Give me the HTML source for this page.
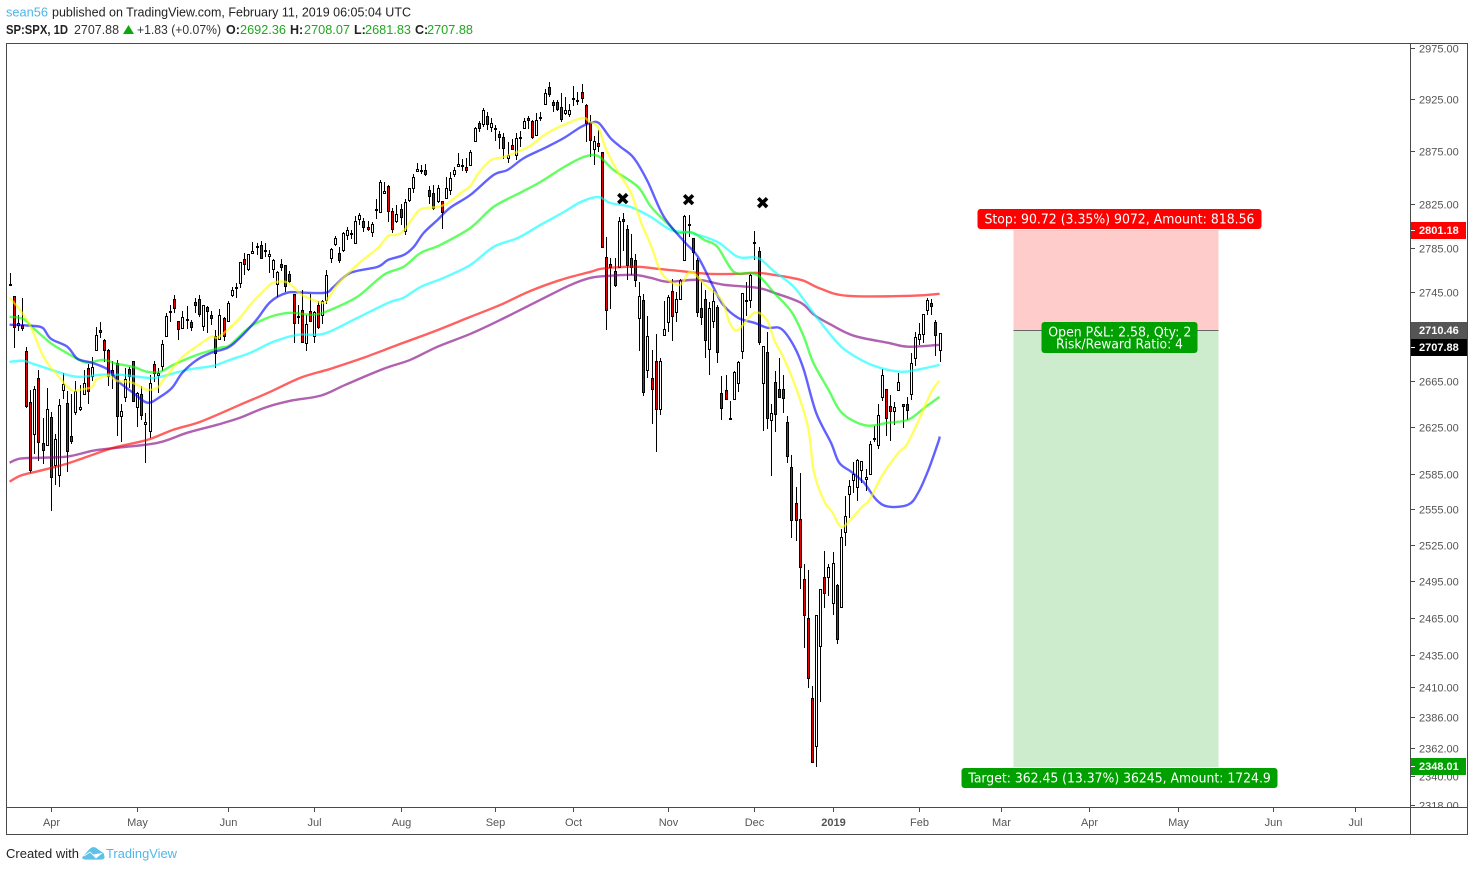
<!DOCTYPE html>
<html lang="en">
<head>
<meta charset="utf-8">
<title>SP:SPX, 1D</title>
<style>
html,body{margin:0;padding:0;background:#fff;width:1474px;height:871px;overflow:hidden}
svg{display:block}
text{font-family:"Liberation Sans",Arial,sans-serif}
</style>
</head>
<body>
<svg id="chart" xmlns="http://www.w3.org/2000/svg" width="1474" height="871" viewBox="0 0 1474 871">
  <defs>
    <clipPath id="axis-clip"><rect x="1411" y="44" width="56" height="763"/></clipPath>
  </defs>
  <rect x="0" y="0" width="1474" height="871" fill="#ffffff"/>

  <g font-size="12.5" fill="#333">
    <text x="6" y="16.5" fill="#4cb6e6" textLength="42" lengthAdjust="spacingAndGlyphs">sean56</text>
    <text x="52" y="16.5" fill="#222" textLength="359" lengthAdjust="spacingAndGlyphs">published on TradingView.com, February 11, 2019 06:05:04 UTC</text>
  </g>
  <g font-size="12.5">
    <text x="6" y="34" font-weight="700" fill="#222" textLength="62" lengthAdjust="spacingAndGlyphs">SP:SPX, 1D</text>
    <text x="74" y="34" fill="#333" textLength="45" lengthAdjust="spacingAndGlyphs">2707.88</text>
    <polygon points="123,34 134,34 128.5,25" fill="#0ba80b"/>
    <text x="137" y="34" fill="#333" textLength="84" lengthAdjust="spacingAndGlyphs">+1.83 (+0.07%)</text>
    <text x="226" y="34" font-weight="700" fill="#222">O:</text>
    <text x="240" y="34" fill="#1fa81f" textLength="46" lengthAdjust="spacingAndGlyphs">2692.36</text>
    <text x="290" y="34" font-weight="700" fill="#222">H:</text>
    <text x="304" y="34" fill="#1fa81f" textLength="46" lengthAdjust="spacingAndGlyphs">2708.07</text>
    <text x="354" y="34" font-weight="700" fill="#222">L:</text>
    <text x="365" y="34" fill="#1fa81f" textLength="46" lengthAdjust="spacingAndGlyphs">2681.83</text>
    <text x="415" y="34" font-weight="700" fill="#222">C:</text>
    <text x="427" y="34" fill="#1fa81f" textLength="46" lengthAdjust="spacingAndGlyphs">2707.88</text>
  </g>

  <g id="position">
    <rect x="1013.5" y="230" width="205" height="100" fill="#ffcccc"/>
    <rect x="1013.5" y="330" width="205" height="437" fill="#cdebcd"/>
    <line x1="1013.5" y1="330.5" x2="1218.5" y2="330.5" stroke="#666" stroke-width="1"/>
  </g>

  <g id="candles"></g>
  <g id="averages"></g>

  <g id="markers"></g>

  <g>
    <rect x="977.5" y="209" width="284" height="20" rx="3" fill="#ff0000"/>
    <text x="984.5" y="223.5" font-size="13" fill="#fff" style="font-family:'DejaVu Sans',sans-serif" textLength="270" lengthAdjust="spacingAndGlyphs">Stop: 90.72 (3.35%) 9072, Amount: 818.56</text>
    <rect x="1041.5" y="322" width="156" height="31" rx="3" fill="#00a000"/>
    <text x="1048.3" y="336.5" font-size="13" fill="#fff" style="font-family:'DejaVu Sans',sans-serif" textLength="143" lengthAdjust="spacingAndGlyphs">Open P&amp;L: 2.58, Qty: 2</text>
    <text x="1056" y="348.5" font-size="13" fill="#fff" style="font-family:'DejaVu Sans',sans-serif" textLength="127" lengthAdjust="spacingAndGlyphs">Risk/Reward Ratio: 4</text>
    <rect x="961.5" y="768" width="316" height="20" rx="3" fill="#00a000"/>
    <text x="968.3" y="782.5" font-size="13" fill="#fff" style="font-family:'DejaVu Sans',sans-serif" textLength="302.5" lengthAdjust="spacingAndGlyphs">Target: 362.45 (13.37%) 36245, Amount: 1724.9</text>
  </g>

  <g id="price-axis" clip-path="url(#axis-clip)"></g>
  <g id="time-axis"></g>

  <g font-size="11" font-weight="700" fill="#fff">
    <rect x="1411" y="222" width="55" height="17" fill="#ff0000"/>
    <text x="1419" y="234">2801.18</text>
    <rect x="1411" y="322" width="56" height="17" fill="#555555"/>
    <text x="1419" y="334">2710.46</text>
    <rect x="1411" y="339" width="56" height="17" fill="#000000"/>
    <text x="1419" y="351">2707.88</text>
    <rect x="1411" y="758" width="55" height="17" fill="#00a000"/>
    <text x="1419" y="770">2348.01</text>
    <line x1="1411" y1="230.5" x2="1415" y2="230.5" stroke="#fff"/>
    <line x1="1411" y1="347.5" x2="1415" y2="347.5" stroke="#fff"/>
    <line x1="1411" y1="766.5" x2="1415" y2="766.5" stroke="#fff"/>
  </g>

  <g stroke="#4a4a4a" stroke-width="1" shape-rendering="crispEdges">
    <line x1="6" y1="43.5" x2="1468" y2="43.5"/>
    <line x1="6.5" y1="43" x2="6.5" y2="835"/>
    <line x1="1467.5" y1="43" x2="1467.5" y2="835"/>
    <line x1="6" y1="834.5" x2="1468" y2="834.5"/>
    <line x1="1410.5" y1="43" x2="1410.5" y2="835"/>
    <line x1="6" y1="807.5" x2="1468" y2="807.5"/>
  </g>

  <g>
    <text x="6" y="858" font-size="13" fill="#222" textLength="73" lengthAdjust="spacingAndGlyphs">Created with</text>
    <path d="M82 857 L89 849 Q93 845 97 848 L104 853 L105 857 Q105 860 101 860 L86 860 Q81 860 82 857 Z M84 856 L90 852 L96 858 L102 853" fill="#5cc2ea" stroke="#ffffff" stroke-width="0.8"/>
    <text x="106" y="858" font-size="13" fill="#4db8e8" textLength="71" lengthAdjust="spacingAndGlyphs">TradingView</text>
  </g>
</svg>

<script>
/* ---------- price data: daily bars, 16 Mar 2018 to 8 Feb 2019 ---------- */
const barOpen = [
2750.57,2741.38,2715.05,2714.99,2691.36,2646.71,2619.35,2667.57,2611.30,2610.00,
2633.45,2592.17,2584.04,2657.36,2645.82,2617.18,2638.41,2641.13,2653.83,2676.90,2670.10,2692.74,2710.11,2701.16,2692.56,2675.40,2680.80,2634.92,2651.65,2675.47,2682.51,
2642.96,2654.24,2628.08,2621.45,2680.34,2670.26,2678.12,2705.02,2727.95,2738.47,2718.59,2712.62,2719.71,2717.35,2735.39,2738.34,2713.98,2730.94,2723.60,2705.11,2702.43,2720.98,
2718.70,2741.67,2748.46,2753.25,2774.84,2765.84,2780.18,2785.60,2787.94,2783.21,2777.78,2765.79,2752.00,2769.73,2769.28,2760.79,2742.94,2722.12,2728.45,2698.69,2727.13,
2704.95,2733.27,2724.19,2737.68,2775.62,2788.56,2779.82,2783.14,2796.93,2797.36,2789.34,2811.35,2809.37,2804.55,2799.17,2820.68,2817.73,2835.49,2842.35,2819.00,2809.73,
2821.17,2800.48,2829.62,2840.29,2855.92,2856.79,2857.19,2838.90,2835.46,2827.88,2827.95,2831.44,2838.32,2853.93,2861.51,2860.99,2860.29,2862.35,2884.69,2901.45,2900.62,2908.94,2898.37,
2896.96,2891.59,2888.64,2868.26,2881.39,2871.57,2888.29,2896.85,2906.38,2903.83,2890.74,2906.60,2919.73,2936.76,2921.83,2921.75,2916.98,2911.65,2910.03,
2926.29,2923.80,2931.69,2919.35,2902.54,2877.53,2882.51,2873.90,2776.87,2770.54,2763.83,2767.05,2811.67,2802.00,2775.66,2773.94,2721.03,2737.87,2674.88,2667.86,2682.65,2640.68,2705.60,
2717.58,2745.45,2726.37,2738.40,2774.13,2806.38,2794.10,2773.93,2730.05,2737.90,2693.52,2718.54,2730.74,2654.60,2657.74,2633.36,2649.97,2663.75,2691.45,2736.97,2737.76,
2790.50,2782.43,2663.51,2691.26,2630.86,2664.44,2658.23,2658.70,2629.68,2590.75,2559.90,2547.05,2496.77,2465.38,2400.56,2363.12,2442.50,2498.77,2498.94,
2476.96,2491.92,2474.33,2535.61,2568.11,2580.00,2573.51,2588.11,2580.31,2585.10,2614.75,2609.28,2651.27,2657.88,2643.48,2638.84,2657.44,2644.97,2644.89,2653.62,2685.49,
2702.32,2706.49,2728.34,2735.05,2717.53,2692.36];
const barHigh = [
2761.85,2741.38,2724.22,2739.14,2695.68,2657.67,2661.36,2674.78,2632.65,2659.07,
2638.30,2619.14,2649.86,2672.08,2656.88,2653.55,2665.45,2661.43,2674.72,2680.26,2686.49,2713.34,2717.49,2702.84,2693.94,2682.86,2683.55,2645.30,2676.48,2677.35,2682.87,
2655.27,2660.87,2637.14,2670.93,2683.35,2676.34,2701.27,2726.11,2732.86,2742.10,2718.59,2727.76,2731.96,2719.50,2739.19,2742.24,2733.33,2731.97,2727.36,2710.67,2729.34,2722.50,
2736.93,2749.16,2752.61,2772.39,2779.90,2779.39,2790.21,2789.80,2791.47,2789.06,2782.81,2774.99,2763.39,2774.86,2769.28,2764.17,2742.94,2732.91,2746.09,2724.34,2743.26,
2727.26,2736.58,2737.83,2764.41,2784.65,2795.58,2785.91,2799.22,2804.53,2801.19,2814.19,2816.76,2812.05,2809.70,2808.61,2829.99,2848.03,2845.57,2843.17,2821.74,2824.46,
2825.83,2829.91,2840.38,2853.29,2863.43,2862.44,2862.48,2842.20,2843.40,2843.11,2827.95,2850.49,2855.63,2859.76,2873.23,2867.54,2868.78,2876.16,2898.25,2903.77,2916.50,2912.46,2906.32,
2900.18,2894.21,2892.05,2883.81,2886.93,2892.52,2894.65,2906.76,2908.30,2904.65,2911.17,2912.36,2934.80,2940.91,2923.79,2923.95,2931.15,2927.22,2920.53,
2937.06,2931.42,2939.86,2919.78,2909.64,2889.45,2894.83,2874.02,2795.14,2775.77,2775.99,2813.46,2816.94,2806.04,2797.77,2778.94,2753.59,2742.59,2722.70,2692.38,2706.85,2685.43,2736.69,
2741.67,2756.55,2744.27,2756.82,2815.15,2814.75,2794.10,2775.99,2754.60,2746.80,2735.38,2746.75,2733.16,2669.44,2670.73,2647.55,2674.35,2682.53,2744.00,2753.75,2760.88,
2800.18,2785.93,2696.15,2708.54,2645.06,2674.35,2685.44,2670.19,2635.07,2601.13,2573.99,2585.29,2509.63,2504.41,2410.34,2467.76,2489.10,2520.27,2509.24,
2519.49,2493.14,2538.07,2566.16,2579.82,2595.32,2597.82,2596.27,2589.32,2613.08,2625.76,2645.06,2675.47,2657.88,2653.19,2647.20,2672.38,2644.97,2650.93,2690.44,2708.95,
2716.66,2724.99,2738.98,2738.08,2719.32,2708.07];
const barLow = [
2749.97,2694.59,2710.05,2709.79,2641.59,2585.89,2601.81,2596.12,2593.06,2609.72,
2553.80,2575.49,2573.61,2649.58,2586.27,2610.79,2635.78,2639.25,2653.83,2645.05,2665.16,2692.05,2703.63,2681.90,2660.61,2657.99,2617.32,2612.67,2647.16,2659.01,2648.04,
2625.41,2631.70,2594.62,2615.32,2664.70,2655.20,2674.14,2704.54,2717.45,2725.47,2701.91,2712.17,2711.36,2709.18,2725.70,2721.88,2709.54,2707.38,2714.99,2676.81,2702.43,2700.68,
2718.70,2740.54,2739.51,2748.46,2760.16,2763.59,2780.17,2778.78,2774.65,2776.52,2761.73,2757.12,2740.00,2763.91,2744.39,2752.68,2698.67,2715.60,2699.38,2691.99,2718.03,
2698.95,2711.16,2716.02,2733.52,2770.73,2786.24,2770.77,2781.53,2791.69,2793.39,2789.24,2805.89,2799.77,2800.01,2795.14,2811.12,2817.73,2835.26,2808.34,2798.11,2808.06,
2805.85,2796.34,2827.37,2835.98,2855.92,2853.09,2851.98,2825.81,2819.88,2826.58,2802.49,2831.44,2833.73,2850.62,2861.32,2856.05,2854.03,2862.35,2884.69,2893.50,2898.40,2895.22,2893.63,
2885.13,2876.92,2867.29,2864.12,2875.94,2866.78,2879.20,2896.39,2895.77,2886.16,2890.43,2903.82,2919.73,2927.11,2912.63,2913.70,2903.28,2909.27,2907.50,
2917.91,2919.37,2921.36,2883.92,2869.29,2862.08,2874.27,2784.86,2710.51,2729.44,2749.03,2766.91,2781.81,2755.18,2760.27,2749.22,2691.43,2651.89,2667.84,2628.16,2603.54,2635.34,2705.60,
2708.85,2700.44,2717.94,2737.08,2774.13,2794.99,2764.24,2722.00,2714.98,2685.75,2670.75,2712.16,2681.09,2631.52,2649.82,2631.09,2649.97,2655.89,2684.38,2722.94,2730.10,
2773.38,2697.18,2621.53,2623.14,2583.23,2621.30,2650.26,2637.27,2593.84,2530.54,2528.71,2488.96,2441.18,2408.55,2351.10,2346.58,2397.94,2472.89,2482.82,
2467.47,2443.96,2474.33,2524.56,2547.56,2568.89,2562.02,2577.40,2570.41,2585.10,2612.68,2606.36,2647.58,2617.27,2612.86,2627.01,2657.33,2624.06,2631.05,2648.34,2678.65,
2696.88,2698.75,2724.03,2724.15,2687.26,2681.83];
const barClose = [
2752.01,2712.92,2716.94,2711.93,2643.69,2588.26,2658.55,2612.62,2605.00,2640.87,
2581.88,2614.45,2644.69,2662.84,2604.47,2613.16,2656.87,2642.19,2663.99,2656.30,2677.84,2706.39,2708.64,2693.13,2670.14,2670.29,2634.56,2639.40,2666.94,2669.91,2648.05,
2654.80,2635.67,2629.73,2663.42,2672.63,2671.92,2697.79,2723.07,2727.72,2730.13,2711.45,2722.46,2720.13,2712.97,2733.01,2724.44,2733.29,2727.76,2721.33,2689.86,2724.01,2705.27,
2734.62,2746.87,2748.80,2772.35,2770.37,2779.03,2782.00,2786.85,2775.63,2782.49,2779.66,2773.87,2762.59,2767.32,2749.76,2754.88,2717.07,2723.06,2699.63,2716.31,2718.37,
2726.71,2713.22,2736.61,2759.82,2784.17,2793.84,2774.02,2798.29,2801.31,2798.43,2809.55,2815.62,2804.49,2801.83,2806.98,2820.40,2846.07,2837.44,2818.82,2802.60,2816.29,
2813.36,2827.22,2840.35,2850.40,2858.45,2857.70,2853.58,2833.28,2821.93,2839.96,2818.37,2840.69,2850.13,2857.05,2862.96,2861.82,2856.98,2874.69,2896.74,2897.52,2914.04,2901.13,2901.52,
2896.72,2888.60,2878.05,2871.68,2877.13,2887.89,2888.92,2904.18,2904.98,2888.80,2904.31,2907.95,2930.75,2929.67,2919.37,2915.56,2905.97,2914.00,2913.98,
2924.59,2923.43,2925.51,2901.61,2885.57,2884.43,2880.34,2785.68,2728.37,2767.13,2750.79,2809.92,2809.21,2768.78,2767.78,2755.88,2740.69,2656.10,2705.57,2658.69,2641.25,2682.63,2711.74,
2740.37,2723.06,2738.31,2755.45,2813.89,2806.83,2781.01,2726.22,2722.18,2701.58,2730.20,2736.27,2690.73,2641.89,2649.93,2632.56,2673.45,2682.17,2743.79,2737.76,2760.17,
2790.37,2700.06,2695.95,2633.08,2637.72,2636.78,2651.07,2650.54,2599.95,2545.94,2546.16,2506.96,2467.42,2416.62,2351.10,2467.70,2488.83,2485.74,2506.85,
2510.03,2447.89,2531.94,2549.69,2574.41,2584.96,2596.64,2596.26,2582.61,2610.30,2616.10,2635.96,2670.71,2632.90,2638.70,2642.33,2664.76,2643.85,2640.00,2681.05,2704.10,
2706.53,2724.87,2737.70,2731.61,2706.05,2707.88];

/* ---------- moving averages: bar number + price ---------- */
const yellowBars = [0,2.5,4.5,6,8,10,12,14,15.5,17,20,21,24,26,29,31,33.5,36,37,40,42,46,49,50.5,53,56,58.5,62,64,67,69,71,76,77.5,80,85,89.5,92,94,96,98,100,104,106.5,110,112,114,117,120,126,130,133,139,141,143,145,148,151,153.5,156,158,160,163,165.5,169,173,175,177,181,184,186,188,191,194,195.5,198,200,201.5,203,207,209,212,216,218,221,224,226];
const yellowValues = [2739.4,2728.6,2717.8,2706.2,2688.4,2677,2669,2660.2,2656.7,2657.6,2660,2666.4,2670,2665.5,2664.6,2662,2657.6,2659.4,2664.6,2677.8,2686.6,2697.3,2704.5,2703.6,2710.7,2721.4,2733.1,2746.6,2753,2753.9,2749.3,2742.1,2734.9,2739.4,2753,2771.2,2784.8,2795.9,2796.8,2801.4,2812.5,2820.8,2822.7,2826.4,2836.7,2842.3,2854.5,2866.7,2869.5,2879,2890.5,2897.1,2906.6,2902.8,2898,2876.2,2854.5,2835.8,2808,2785.8,2764.8,2755.7,2751.2,2763,2751.2,2737.6,2716.9,2710.7,2725.9,2719.6,2700,2686.6,2660.2,2625.5,2586,2561.4,2552.2,2542.1,2541.3,2556.4,2563.1,2583.4,2603,2609.9,2631.5,2655.9,2665.5];
const blueBars = [0,5,8,10,14,16.5,20,24,26.5,30,33.5,36.6,39.5,42,45.6,49,53,56,60,63.4,67.5,71.4,76.8,78.7,82.8,89.4,92,95.8,98.2,100.6,104,107,112,117.6,121,125,130,134.7,138.8,141.2,143.2,146,148.5,151.7,155,159,164,167.3,171,173.4,177,181,184.2,187.5,190.7,193,196,199.6,201.6,204.5,207.6,210.6,213.5,218.4,220.8,223.3,225.7,226];
const blueValues = [2715.2,2714.3,2712.5,2702.7,2695.6,2684.9,2681.4,2675.2,2664.6,2655,2646.3,2651.5,2659.4,2672.6,2684,2690.2,2694.7,2703.6,2719.6,2735.8,2744,2744,2744,2749.3,2762,2767.5,2773.9,2778.4,2785.8,2798.6,2810.7,2821.8,2834,2852.6,2857.3,2868.6,2878,2887.6,2898,2901.8,2901.8,2887.6,2879,2868.6,2846.9,2813.5,2790.4,2776.6,2749.3,2733.1,2721.4,2716.9,2712.5,2711.6,2695.6,2675.2,2637.6,2611.6,2594.5,2586.8,2577.5,2563.1,2557.2,2558.9,2569,2588.5,2612.5,2617];
const greenBars = [0,3.3,5.7,9.9,13,16.4,18.9,22.8,26,30,33.5,36.6,39.8,45.6,51.2,53.6,58.5,63.4,68.2,73.8,78,84.5,90.9,95.7,99.9,104.7,112,117.6,124,129,134.7,139.5,143,146.8,152.7,155.9,160.7,162.4,165.6,168.8,172,176,180.2,182.6,185.8,190,193,195.3,199,201.6,204.5,208.6,213.5,218.4,222.3,226];
const greenValues = [2722.3,2720.5,2712.5,2699.1,2692,2684.9,2681.4,2684,2680.5,2677.8,2673.4,2673.4,2679.6,2688.4,2694.7,2697.3,2713.4,2722.3,2725.9,2724.1,2728.6,2740.3,2760.2,2767.5,2780.3,2787.6,2803.3,2822.7,2835.8,2846,2860,2869.5,2870.5,2857.3,2841.4,2822.7,2804.2,2798.6,2799.5,2792.2,2785.8,2763,2762,2757.5,2743.9,2726.8,2704.5,2681.4,2657.6,2640.2,2631.5,2626.3,2628.9,2631.5,2641.9,2651.5];
const cyanBars = [0,3.3,5.7,11.6,16.4,22,26.9,33.5,36.6,43.2,49.5,53.6,58.5,64.1,70,76.3,83.6,92,95.7,99.9,105.5,112,117.6,123.5,129,134.7,138.8,143,146,150.9,155.8,160.7,165.6,172,177,181.8,185.9,190.6,195.3,200.5,204,210,216.7,221.5,226];
const cyanValues = [2682.2,2683.1,2680.5,2673.4,2669,2670.8,2670.8,2668.1,2669,2675.2,2678.7,2684,2690.2,2700,2706.2,2707.1,2719.6,2734.9,2739.4,2749.3,2757.5,2769.3,2785.8,2794,2806,2818,2827.3,2832,2826.4,2822.7,2813.5,2801.4,2798.6,2790.4,2776.6,2775.7,2763,2749.3,2725.9,2701.8,2690.2,2678.7,2673.4,2676,2679.6];
const redBars = [0,2.6,7.4,14,18.9,25.2,33.5,39.8,46.4,56,63.4,70.7,78,86,95.7,102.3,112,119.3,126.6,134,141.2,143.7,149.3,153.4,157.5,162.4,169.7,177,181.8,185.8,190,193,197.2,203.7,219,226];
const redValues = [2578.3,2583.4,2587.7,2593.7,2599.7,2607.3,2614.2,2622.9,2629.8,2644.5,2655.9,2668.2,2676.1,2685.8,2699.1,2708,2722.3,2733.1,2745.7,2755.7,2763,2765.7,2767.5,2767.5,2765.7,2763.9,2761.2,2761.2,2762,2760.2,2757.5,2754.8,2747.5,2741.2,2741.2,2743];
const purpleBars = [0,2.6,8,14,20.3,26,36,43.2,50.5,56,62,68.2,75.6,81.6,90.9,97.4,104,112,119.3,129,136.4,141.2,145.4,151.7,155.8,160,167.3,173.6,181.8,185.8,192.3,195.5,199.6,205.2,213.5,218.4,226];
const purpleValues = [2594.5,2598,2598.8,2599.7,2604.8,2607.3,2611.6,2620.3,2627.2,2633.2,2642,2648,2652.5,2662,2676.1,2684,2695.6,2707.1,2719.6,2737.6,2751.2,2757.5,2759.3,2760.2,2757.5,2753.9,2755.7,2751.2,2748.4,2743.9,2734.9,2724.1,2715.2,2705.3,2699.1,2695.6,2697.3];

/* ---------- axis labels and markers ---------- */
const priceTicks = [2975,2925,2875,2825,2785,2745,2665,2625,2585,2555,2525,2495,2465,2435,2410,2386,2362,2340,2318];
const monthLabels = ['Apr','May','Jun','Jul','Aug','Sep','Oct','Nov','Dec','2019','Feb','Mar','Apr','May','Jun','Jul'];
const monthBars = [10,31,53,74,95,118,137,160,181,200,221,241,262.2,284,307,327];
const markerBars = [149,165,183];
const markerPrices = [2830.5,2829.5,2826.7];

/* ---------- axis functions ---------- */
const xScale = function (bar) { return 9.6 + bar * 4.115; };
const yScale = function (price) { return 47.5 + 3034 * Math.log(2975 / price); };
const SVG_NS = 'http://www.w3.org/2000/svg';
const candleGroup = document.getElementById('candles');
const averageGroup = document.getElementById('averages');
const markerGroup = document.getElementById('markers');
const priceAxis = document.getElementById('price-axis');
const timeAxis = document.getElementById('time-axis');

/* candles */
barClose.forEach(function (close, i) {
  const cx = Math.round(xScale(i));
  const up = close >= barOpen[i];
  const wick = document.createElementNS(SVG_NS, 'line');
  
  
  wick.setAttribute('x1', cx + 0.5);
  wick.setAttribute('x2', cx + 0.5);
  wick.setAttribute('y1', Math.round(yScale(barHigh[i])));
  wick.setAttribute('y2', Math.round(yScale(barLow[i])));
  wick.setAttribute('stroke', '#000');
  wick.setAttribute('shape-rendering', 'crispEdges');
  candleGroup.appendChild(wick);
  const top = Math.round(yScale(Math.max(barOpen[i], close)));
  const bottom = Math.round(yScale(Math.min(barOpen[i], close)));
  const body = document.createElementNS(SVG_NS, 'rect');
  
  
  body.setAttribute('x', cx - 0.5);
  body.setAttribute('y', top + 0.5);
  body.setAttribute('width', 2);
  body.setAttribute('height', Math.max(bottom - top, 1));
  body.setAttribute('fill', up ? '#ffffff' : '#e60000');
  body.setAttribute('stroke', '#000');
  body.setAttribute('shape-rendering', 'crispEdges');
  candleGroup.appendChild(body);
});

/* moving averages, drawn as a smooth curve through the read points */
function drawAverage(name, bars, values, colour) {
  const pts = bars.map(function (bar, k) {
    return [xScale(bar), yScale(values[k])];
  });
  let d = 'M' + pts[0][0].toFixed(1) + ' ' + pts[0][1].toFixed(1);
  for (let k = 0; k < pts.length - 1; k++) {
    const p0 = pts[Math.max(k - 1, 0)];
    const p1 = pts[k];
    const p2 = pts[k + 1];
    const p3 = pts[Math.min(k + 2, pts.length - 1)];
    const c1x = p1[0] + (p2[0] - p0[0]) / 6;
    const c1y = p1[1] + (p2[1] - p0[1]) / 6;
    const c2x = p2[0] - (p3[0] - p1[0]) / 6;
    const c2y = p2[1] - (p3[1] - p1[1]) / 6;
    d += 'C' + c1x.toFixed(1) + ' ' + c1y.toFixed(1) + ' ' + c2x.toFixed(1) + ' ' + c2y.toFixed(1) + ' ' + p2[0].toFixed(1) + ' ' + p2[1].toFixed(1);
  }
  const line = document.createElementNS(SVG_NS, 'path');
  
  
  line.setAttribute('d', d);
  line.setAttribute('fill', 'none');
  line.setAttribute('stroke', colour);
  line.setAttribute('stroke-width', '2.4');
  line.setAttribute('stroke-linejoin', 'round');
  averageGroup.appendChild(line);
}
drawAverage('purple-average-line', purpleBars, purpleValues, 'rgba(128,0,128,0.62)');
drawAverage('red-average-line', redBars, redValues, 'rgba(255,0,0,0.62)');
drawAverage('cyan-average-line', cyanBars, cyanValues, 'rgba(0,255,255,0.62)');
drawAverage('green-average-line', greenBars, greenValues, 'rgba(0,255,0,0.62)');
drawAverage('blue-average-line', blueBars, blueValues, 'rgba(0,0,255,0.62)');
drawAverage('yellow-average-line', yellowBars, yellowValues, 'rgba(255,255,0,0.62)');

/* X markers */
markerBars.forEach(function (bar, i) {
  const cx = xScale(bar);
  const cy = yScale(markerPrices[i]);
  const mark = document.createElementNS(SVG_NS, 'path');
  
  
  mark.setAttribute('d', 'M' + (cx - 4.4) + ' ' + (cy - 4.4) + 'L' + (cx + 4.4) + ' ' + (cy + 4.4) + 'M' + (cx + 4.4) + ' ' + (cy - 4.4) + 'L' + (cx - 4.4) + ' ' + (cy + 4.4));
  mark.setAttribute('stroke', '#000');
  mark.setAttribute('stroke-width', '3.6');
  mark.setAttribute('fill', 'none');
  markerGroup.appendChild(mark);
});

/* price axis */
priceTicks.forEach(function (price) {
  const y = Math.round(yScale(price)) + 0.5;
  const tick = document.createElementNS(SVG_NS, 'line');
  
  
  tick.setAttribute('x1', 1411);
  tick.setAttribute('x2', 1415);
  tick.setAttribute('y1', y);
  tick.setAttribute('y2', y);
  tick.setAttribute('stroke', '#4a4a4a');
  tick.setAttribute('shape-rendering', 'crispEdges');
  priceAxis.appendChild(tick);
  const label = document.createElementNS(SVG_NS, 'text');
  
  
  label.setAttribute('x', 1419);
  label.setAttribute('y', y + 4);
  label.setAttribute('font-size', '11');
  label.setAttribute('fill', '#555');
  label.textContent = price.toFixed(2);
  priceAxis.appendChild(label);
});

/* time axis */
monthLabels.forEach(function (text, i) {
  const x = Math.round(xScale(monthBars[i])) + 0.5;
  const tick = document.createElementNS(SVG_NS, 'line');
  
  
  tick.setAttribute('x1', x);
  tick.setAttribute('x2', x);
  tick.setAttribute('y1', 808);
  tick.setAttribute('y2', 812);
  tick.setAttribute('stroke', '#4a4a4a');
  tick.setAttribute('shape-rendering', 'crispEdges');
  timeAxis.appendChild(tick);
  const label = document.createElementNS(SVG_NS, 'text');
  
  
  label.setAttribute('x', x);
  label.setAttribute('y', 826);
  label.setAttribute('text-anchor', 'middle');
  label.setAttribute('font-size', '11');
  label.setAttribute('font-weight', text === '2019' ? '700' : '400');
  label.setAttribute('fill', '#555');
  label.textContent = text;
  timeAxis.appendChild(label);
});
</script>
</body>
</html>
